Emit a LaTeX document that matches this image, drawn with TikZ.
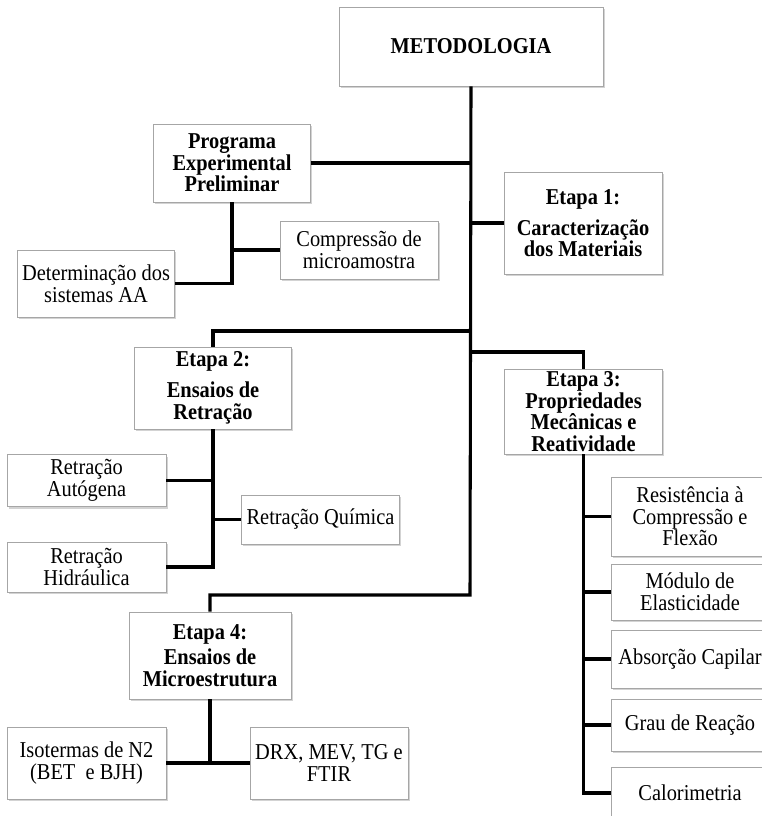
\documentclass[tikz,border=0pt]{standalone}
\usepackage{fontspec}
\setmainfont{Liberation Serif}[FakeStretch=0.9]
\usetikzlibrary{shadows}

\begin{document}
\begin{tikzpicture}[x=0.75pt,y=-0.75pt,
  liga/.style={line width=2.3pt,black},
  caixa/.style={draw=gray!70,line width=0.6pt,fill=white,align=center,inner sep=0pt,
    font=\fontsize{17}{16.2}\selectfont,
    drop shadow={shadow xshift=1.2pt,shadow yshift=-1.5pt,opacity=0.35}},
  titulo/.style={caixa,font=\fontsize{17}{16.2}\selectfont\bfseries},
  tam/.style 2 args={minimum width=#1*0.75pt,minimum height=#2*0.75pt}]

  \useasboundingbox (0,0) rectangle (762,816);
  \clip (0,0) rectangle (762,816);

  % tronco principal
  \node[titulo,tam={264}{79}] (met) at (471,46.5) {METODOLOGIA};
  \node[titulo,tam={157}{78}] (prog) at (232,163) {Programa\\Experimental\\Preliminar};
  \node[titulo,tam={158}{102}] (et1) at (583,223) {Etapa 1:\\[7pt]Caracterização\\dos Materiais};
  \node[titulo,tam={157}{82}] (et2) at (213,388) {Etapa 2:\\[7pt]Ensaios de\\Retração};
  \node[titulo,tam={158}{85}] (et3) at (583.5,411.5) {Etapa 3:\\Propriedades\\Mecânicas e\\Reatividade};
  \node[titulo,tam={162}{87}] (et4) at (210,655.5) {Etapa 4:\\[3pt]Ensaios de\\Microestrutura};

  % programa preliminar
  \node[caixa,tam={158}{58}] (comp) at (359,250) {Compressão de\\microamostra};
  \node[caixa,tam={157}{67}] (det) at (96,283.5) {Determinação dos\\sistemas AA};

  % etapa 2
  \node[caixa,tam={159}{52}] (raut) at (86.5,480.5) {Retração\\Autógena};
  \node[caixa,tam={158}{49}] (rqui) at (320.5,519.5) {Retração Química};
  \node[caixa,tam={159}{50}] (rhid) at (86.5,567) {Retração\\Hidráulica};

  % etapa 4
  \node[caixa,tam={159}{72}] (iso) at (86.5,763) {Isotermas de N2\\(BET~ e BJH)};
  \node[caixa,tam={158}{72}] (drx) at (329,763) {DRX, MEV, TG e\\FTIR};

  % etapa 3
  \node[caixa,tam={158}{79}] (res) at (690,516.5) {Resistência à\\Compressão e\\Flexão};
  \node[caixa,tam={158}{56}] (mod) at (690,592) {Módulo de\\Elasticidade};
  \node[caixa,tam={158}{58}] (abs) at (690,659) {Absorção Capilar};
  \node[caixa,tam={158}{52}] (grau) at (690,725) {Grau de Reação};
  \node[caixa,tam={158}{52}] (cal) at (690,793) {Calorimetria};

  \coordinate (j2) at (470,331);
  \coordinate (j3) at (470,352);
  \coordinate (j4) at (470,595);

  \draw[liga] (met.south) -- (j4) -| (et4.north);
  \draw[liga] (prog.east) -- (prog.east -| met.south);
  \draw[liga] (et1.west -| met.south) -- (et1.west);
  \draw[liga] (j2) -| (et2.north);
  \draw[liga] (j3) -| (et3.north);

  \draw[liga] (prog.south) |- (det.east);
  \draw[liga] (prog.south |- comp.west) -- (comp.west);

  \draw[liga] (et2.south) |- (rhid.east);
  \draw[liga] (et2.south |- raut.east) -- (raut.east);
  \draw[liga] (et2.south |- rqui.west) -- (rqui.west);

  \draw[liga] (et4.south) -- (et4.south |- iso.east);
  \draw[liga] (iso.east) -- (drx.west);

  \draw[liga] (et3.south) |- (cal.west);
  \draw[liga] (et3.south |- res.west) -- (res.west);
  \draw[liga] (et3.south |- mod.west) -- (mod.west);
  \draw[liga] (et3.south |- abs.west) -- (abs.west);
  \draw[liga] (et3.south |- grau.west) -- (grau.west);
\end{tikzpicture}
\end{document}
